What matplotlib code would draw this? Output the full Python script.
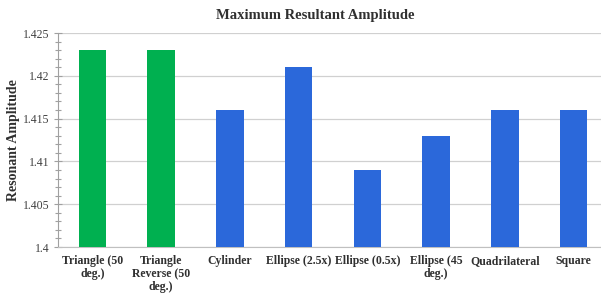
import matplotlib
matplotlib.use("Agg")
import matplotlib.pyplot as plt
from matplotlib.ticker import MultipleLocator, FixedLocator

categories = ["Triangle (50\ndeg.)", "Triangle\nReverse (50\ndeg.)", "Cylinder", "Ellipse (2.5x)",
              "Ellipse (0.5x)", "Ellipse (45\ndeg.)", "Quadrilateral", "Square"]
values = [1.423, 1.423, 1.416, 1.421, 1.409, 1.413, 1.416, 1.416]
colors = ["#00B050", "#00B050", "#2B68DA", "#2B68DA", "#2B68DA", "#2B68DA", "#2B68DA", "#2B68DA"]
yticks = [1.4, 1.405, 1.41, 1.415, 1.42, 1.425]
ytick_labels = ["1.4", "1.405", "1.41", "1.415", "1.42", "1.425"]

fig = plt.figure(figsize=(6.01, 2.96), dpi=100)
ax = fig.add_axes([58/601, 1 - 247/296, (608-58)/601, (247-33)/296])

x = list(range(len(categories)))
ax.bar(x, [v - 1.4 for v in values], bottom=1.4, width=0.4, color=colors, zorder=3)
ax.set_xlim(-0.5, 7.5)
ax.set_ylim(1.4, 1.425)
ax.yaxis.set_major_locator(FixedLocator(yticks))
ax.set_yticklabels(ytick_labels, fontfamily="Liberation Serif", fontsize=8.5, color="#404040")
ax.yaxis.set_minor_locator(MultipleLocator(0.001))
ax.tick_params(axis="y", which="major", direction="inout", length=6, color="#A0A0A0", width=0.8, pad=3)
ax.tick_params(axis="y", which="minor", direction="inout", length=4, color="#A0A0A0", width=0.8)
ax.set_xticks(x)
ax.set_xticklabels(categories, fontfamily="Liberation Serif", fontweight="bold", fontsize=8.5, color="#303030", linespacing=1.12)
ax.tick_params(axis="x", length=0, pad=6)
ax.grid(axis="y", color="#D0D0D0", linewidth=0.9, zorder=0)
for s in ["top", "right"]:
    ax.spines[s].set_visible(False)
ax.spines["left"].set_color("#A0A0A0")
ax.spines["bottom"].set_color("#C0C0C0")
ax.set_ylabel("Resonant Amplitude", fontfamily="Liberation Serif", fontweight="bold", fontsize=10, color="#303030", labelpad=2)
fig.text(315/601, 1 - 16/296, "Maximum Resultant Amplitude", ha="center", va="center",
         fontfamily="Liberation Serif", fontweight="bold", fontsize=10.5, color="#303030")
fig.savefig("out.png", dpi=100)
